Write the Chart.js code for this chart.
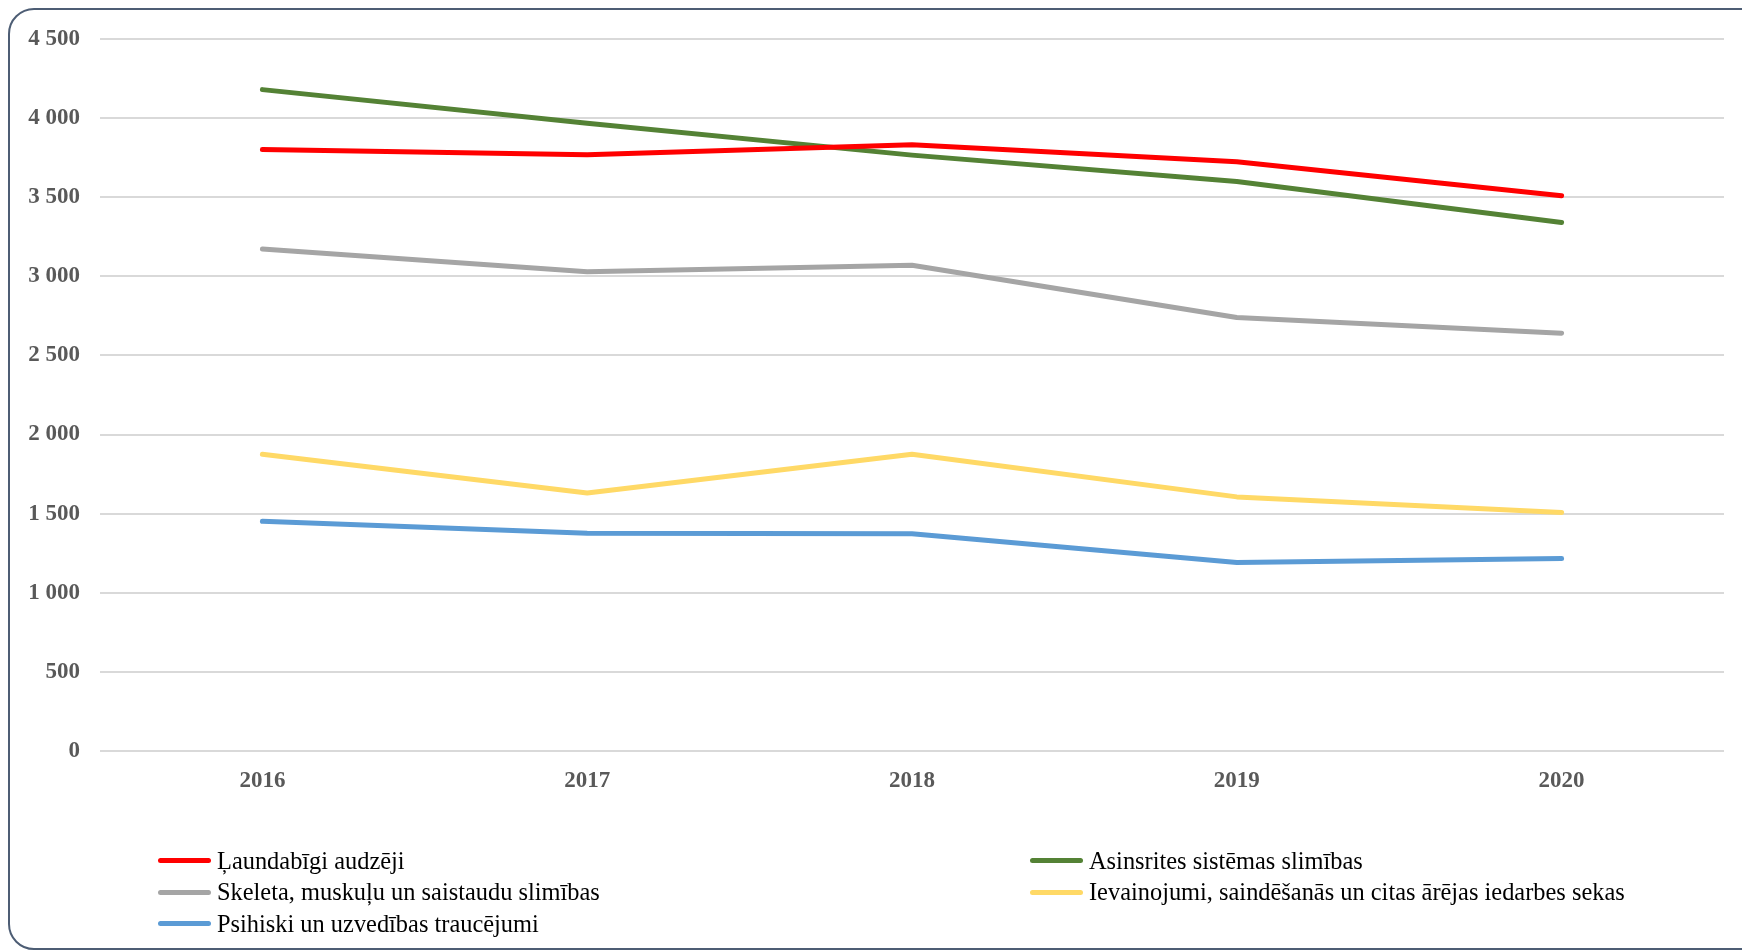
<!DOCTYPE html>
<html>
<head>
    <title>Slimības 2016-2020</title>
    <style>
        html, body { margin: 0; padding: 0; background: #ffffff; overflow: hidden; }
        /* frame around the whole chart, runs off the right edge */
        .frame {
            position: absolute;
            left: 8px;
            top: 8px;
            width: 1790px;
            height: 942px;
            box-sizing: border-box;
            border: 2px solid #4d5d74;
            border-radius: 26px;
            pointer-events: none;
        }
        .chart-box { position: absolute; left: 0; top: 0; width: 1742px; height: 952px; }
        /* legend in two columns like the original */
        #legend {
            position: absolute;
            left: 158px;
            top: 845px;
            display: grid;
            grid-template-columns: 872px auto;
            grid-auto-rows: 31.5px;
            font-family: "Liberation Serif", "Times New Roman", serif;
            font-size: 24.4px;
            color: #000000;
        }
        .legend-item { display: flex; align-items: center; white-space: nowrap; }
        .legend-line { display: inline-block; width: 53px; height: 5px; border-radius: 3px; margin-right: 6px; }
    </style>
</head>
<body>
    <div class="chart-box">
        <canvas id="disease-chart" width="1742" height="952"></canvas>
    </div>
    <div id="legend"></div>
    <div class="frame"></div>

    <script src="https://cdn.jsdelivr.net/npm/chart.js"></script>

    <script>
        // Data
        const years = ['2016', '2017', '2018', '2019', '2020'];
        const malignantTumours = [3802, 3768, 3831, 3724, 3510];
        const circulatoryDiseases = [4180, 3967, 3766, 3600, 3340];
        const musculoskeletalDiseases = [3173, 3029, 3070, 2740, 2641];
        const injuriesPoisoning = [1875, 1631, 1875, 1606, 1507];
        const mentalDisorders = [1452, 1377, 1373, 1192, 1217];

        const seriesNames = [
            'Ļaundabīgi audzēji',
            'Asinsrites sistēmas slimības',
            'Skeleta, muskuļu un saistaudu slimības',
            'Ievainojumi, saindēšanās un citas ārējas iedarbes sekas',
            'Psihiski un uzvedības traucējumi'
        ];
        const seriesColors = ['#ff0000', '#548235', '#a5a5a5', '#ffd966', '#5b9bd5'];
        const seriesValues = [malignantTumours, circulatoryDiseases, musculoskeletalDiseases, injuriesPoisoning, mentalDisorders];

        const yMin = 0;
        const yMax = 4500;
        const yStep = 500;

        // numbers with a space as thousands separator: 4 500
        function formatNumber(v) {
            return String(v).replace(/\B(?=(\d{3})+(?!\d))/g, ' ');
        }

        const datasets = seriesNames.map((name, i) => ({
            label: name,
            data: seriesValues[i],
            borderColor: seriesColors[i],
            backgroundColor: seriesColors[i],
            borderWidth: 5,
            borderCapStyle: 'round',
            borderJoinStyle: 'round',
            pointRadius: 0,
            pointHoverRadius: 0,
            tension: 0,
            fill: false
        }));

        const tickFont = { family: '"Liberation Serif", "Times New Roman", serif', size: 23, weight: 'bold' };

        const ctx = document.getElementById('disease-chart').getContext('2d');
        const chart = new Chart(ctx, {
            type: 'line',
            data: { labels: years, datasets: datasets },
            options: {
                responsive: false,
                animation: false,
                layout: { padding: { left: 0, right: 18, top: 39, bottom: 141 } },
                plugins: {
                    legend: { display: false },
                    tooltip: { enabled: false }
                },
                scales: {
                    x: {
                        offset: true,
                        grid: { display: false, drawTicks: false },
                        border: { display: false },
                        ticks: { color: '#595959', font: tickFont, padding: 16 },
                        afterFit: scale => { scale.height = 60; }
                    },
                    y: {
                        min: yMin,
                        max: yMax,
                        grid: { color: '#d9d9d9', lineWidth: 2, drawTicks: false },
                        border: { display: false },
                        ticks: {
                            stepSize: yStep,
                            color: '#595959',
                            font: tickFont,
                            padding: 20,
                            callback: v => formatNumber(v)
                        },
                        afterFit: scale => { scale.width = 100; }
                    }
                }
            }
        });

        // Build the legend from the chart's datasets
        const legendBox = document.getElementById('legend');
        chart.data.datasets.forEach(ds => {
            const item = document.createElement('div');
            item.className = 'legend-item';
            const line = document.createElement('span');
            line.className = 'legend-line';
            line.style.background = ds.borderColor;
            const text = document.createElement('span');
            text.textContent = ds.label;
            item.appendChild(line);
            item.appendChild(text);
            legendBox.appendChild(item);
        });
    </script>
</body>
</html>
